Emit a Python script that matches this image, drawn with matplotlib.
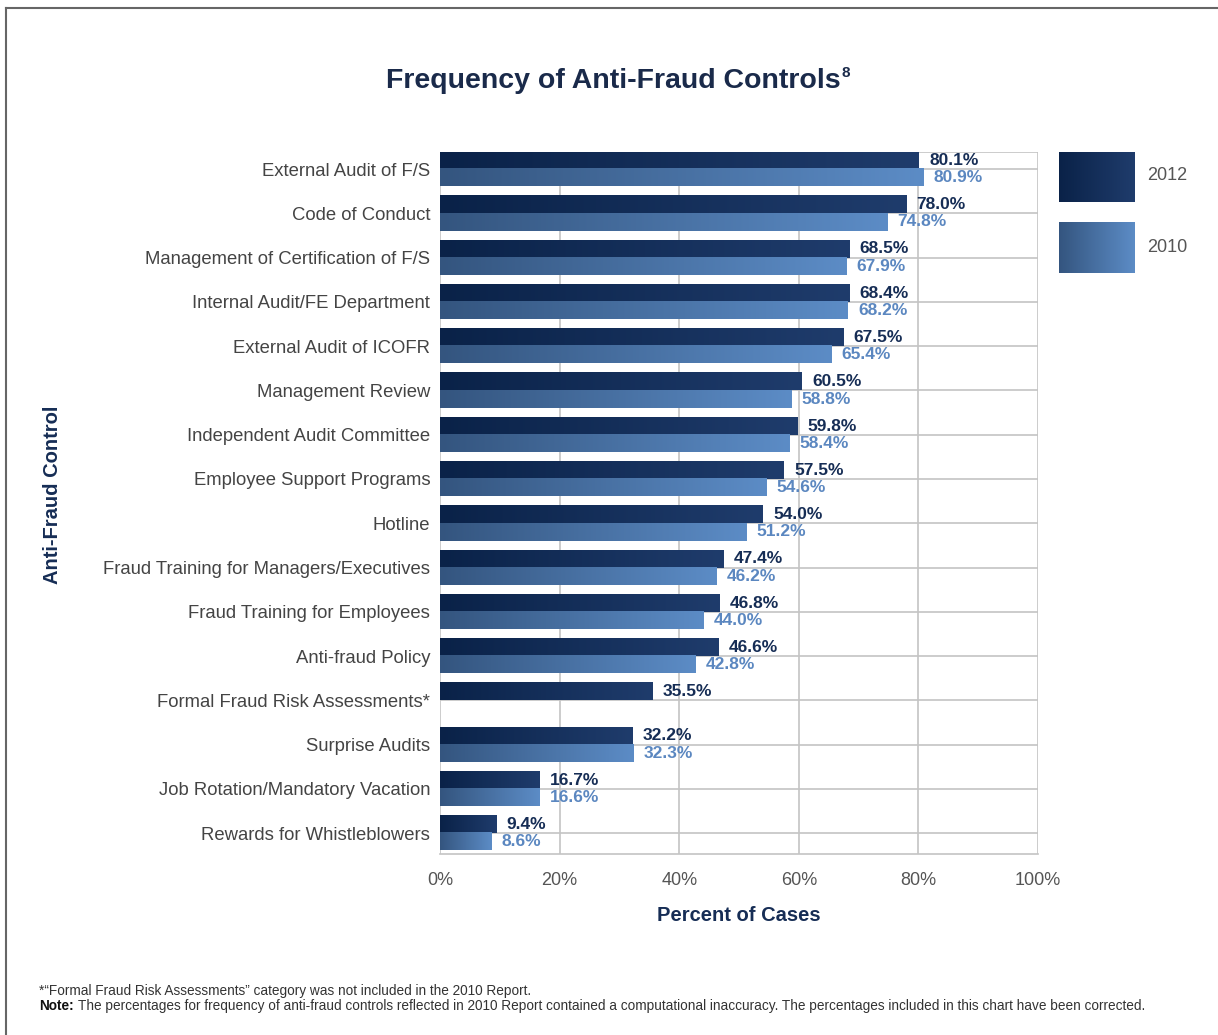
import numpy as np
import matplotlib.pyplot as plt
from matplotlib.colors import LinearSegmentedColormap
from matplotlib.lines import Line2D

# data
categories = ["External Audit of F/S", "Code of Conduct", "Management of Certification of F/S",
              "Internal Audit/FE Department", "External Audit of ICOFR", "Management Review",
              "Independent Audit Committee", "Employee Support Programs", "Hotline",
              "Fraud Training for Managers/Executives", "Fraud Training for Employees",
              "Anti-fraud Policy", "Formal Fraud Risk Assessments*", "Surprise Audits",
              "Job Rotation/Mandatory Vacation", "Rewards for Whistleblowers"]
v2012 = [80.1, 78.0, 68.5, 68.4, 67.5, 60.5, 59.8, 57.5, 54.0, 47.4, 46.8, 46.6, 35.5, 32.2, 16.7, 9.4]
v2010 = [80.9, 74.8, 67.9, 68.2, 65.4, 58.8, 58.4, 54.6, 51.2, 46.2, 44.0, 42.8, None, 32.3, 16.6, 8.6]
xticks = [0, 20, 40, 60, 80, 100]

plt.rcParams['font.family'] = ['Liberation Sans', 'DejaVu Sans']

navy = '#162d55'
light = '#5b87c0'
cmap12 = LinearSegmentedColormap.from_list('c12', ['#0a2248', '#1f3c6c'])
cmap10 = LinearSegmentedColormap.from_list('c10', ['#34557f', '#5c8cc6'])
grad = np.linspace(0, 1, 256).reshape(1, -1)

fig = plt.figure(figsize=(12.18, 10.35), dpi=100)
ax = fig.add_axes([440/1218, 1 - 854/1035, 598/1218, 702/1035])

h = 0.39
for i, cat in enumerate(categories):
    ax.imshow(grad, cmap=cmap12, aspect='auto', extent=[0, v2012[i], i, i - h], zorder=3)
    ax.text(v2012[i] + 1.7, i - h / 2, f"{v2012[i]:.1f}%", color=navy, fontsize=12.5,
            fontweight='bold', va='center', ha='left', zorder=4)
    if v2010[i] is not None:
        ax.imshow(grad, cmap=cmap10, aspect='auto', extent=[0, v2010[i], i + h, i], zorder=3)
        ax.text(v2010[i] + 1.7, i + h / 2, f"{v2010[i]:.1f}%", color=light, fontsize=12.5,
                fontweight='bold', va='center', ha='left', zorder=4)

ax.set_xlim(0, 100)
ax.set_ylim(len(categories) - 1 + 0.47, -0.384)
ax.set_yticks(range(len(categories)))
ax.set_yticklabels(categories, fontsize=13.3, color='#444444')
ax.set_xticks(xticks)
ax.set_xticklabels([f"{t}%" for t in xticks], fontsize=13, color='#555555')
ax.tick_params(length=0)
ax.tick_params(axis='y', pad=7)
ax.tick_params(axis='x', pad=13)

for t in xticks:
    ax.axvline(t, color='#c4c4c4', linewidth=1.2, zorder=1)
for i in range(len(categories)):
    ax.axhline(i, color='#c4c4c4', linewidth=1.2, zorder=1)
for side in ['top', 'right', 'left']:
    ax.spines[side].set_visible(False)
ax.spines['bottom'].set_color('#c4c4c4')
ax.spines['bottom'].set_linewidth(1.2)
ax.axhline(-0.384, color='#c4c4c4', linewidth=1.2, zorder=1)

ax.set_xlabel('Percent of Cases', fontsize=14.5, fontweight='bold', color=navy, labelpad=12)
fig.text(53/1218, 1 - 495/1035, 'Anti-Fraud Control', rotation=90, fontsize=14.5,
         fontweight='bold', color=navy, ha='center', va='center')

fig.text(386/1218, 1 - 81/1035, 'Frequency of Anti-Fraud Controls',
         fontsize=20.5, fontweight='bold', color='#1a2a4a', ha='left', va='center')
fig.text(842/1218, 1 - 73/1035, '8', fontsize=11, fontweight='bold', color='#1a2a4a',
         ha='left', va='center')

# legend swatches
lax = fig.add_axes([1059/1218, 1 - 273/1035, 76/1218, 121/1035])
lax.set_xlim(0, 1)
lax.set_ylim(273, 152)
lax.imshow(grad, cmap=cmap12, aspect='auto', extent=[0, 1, 202, 152])
lax.imshow(grad, cmap=cmap10, aspect='auto', extent=[0, 1, 273, 222])
lax.axis('off')
fig.text(1147/1218, 1 - 175/1035, '2012', fontsize=13, color='#555555', va='center')
fig.text(1147/1218, 1 - 248/1035, '2010', fontsize=13, color='#555555', va='center')

# footnotes
fig.text(39/1218, 1 - 991/1035, '*\u201cFormal Fraud Risk Assessments\u201d category was not included in the 2010 Report.',
         fontsize=9.8, color='#333333', va='center')
fig.text(39/1218, 1 - 1006/1035, 'Note:', fontsize=9.8, color='#111111', fontweight='bold',
         va='center')
fig.text(78/1218, 1 - 1006/1035,
         'The percentages for frequency of anti-fraud controls reflected in 2010 Report contained a computational inaccuracy. '
         'The percentages included in this chart have been corrected.',
         fontsize=9.8, color='#333333', va='center')

# frame
fig.add_artist(Line2D([6/1218, 1], [1 - 8/1035, 1 - 8/1035], color='#666666', linewidth=1.5))
fig.add_artist(Line2D([6/1218, 6/1218], [0, 1 - 8/1035], color='#666666', linewidth=1.5))

fig.savefig('out.png', dpi=100)
